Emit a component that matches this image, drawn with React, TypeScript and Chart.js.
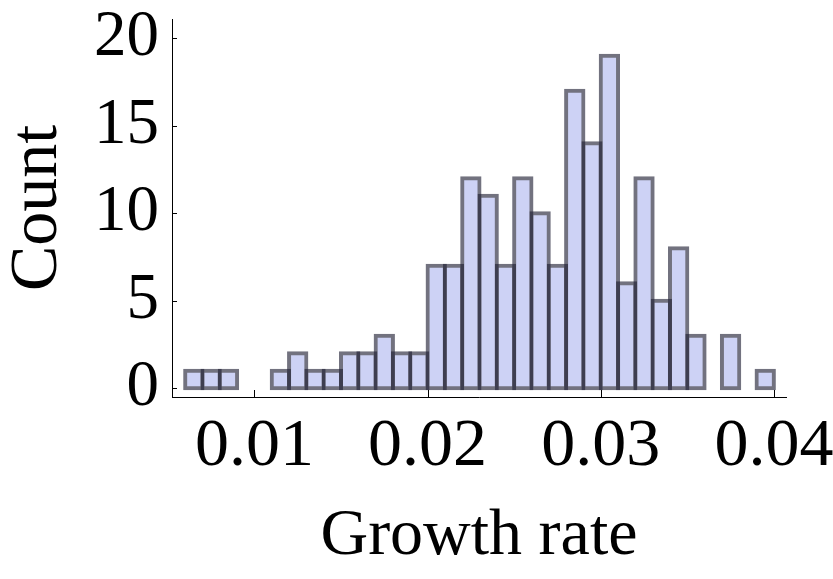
import React, { useEffect, useRef } from 'react';
import { Chart, registerables } from 'chart.js';

Chart.register(...registerables);

const BIN_WIDTH = 0.001;

// lower edge of each histogram bin
const binStarts = [
  0.006, 0.007, 0.008, 0.009, 0.01, 0.011, 0.012, 0.013, 0.014, 0.015, 0.016, 0.017,
  0.018, 0.019, 0.02, 0.021, 0.022, 0.023, 0.024, 0.025, 0.026, 0.027, 0.028, 0.029,
  0.03, 0.031, 0.032, 0.033, 0.034, 0.035, 0.036, 0.037, 0.038, 0.039,
];

const counts = [
  1, 1, 1, 0, 0, 1, 2, 1, 1, 2, 2, 3,
  2, 2, 7, 7, 12, 11, 7, 12, 10, 7, 17, 14,
  19, 6, 12, 5, 8, 3, 0, 3, 0, 1,
];

const xTicks = [0.01, 0.02, 0.03, 0.04];
const yTicks = [0, 5, 10, 15, 20];

const SERIF = "'Liberation Serif', 'Times New Roman', serif";

// Mathematica-style tick marks pointing into the frame
const innerTicks = {
  id: 'innerTicks',
  afterDatasetsDraw(chart: Chart) {
    const { ctx, chartArea, scales } = chart;
    ctx.save();
    ctx.strokeStyle = '#000';
    ctx.lineWidth = 1;
    ctx.beginPath();
    xTicks.forEach((v) => {
      const px = Math.round(scales.x.getPixelForValue(v)) + 0.5;
      ctx.moveTo(px, chartArea.bottom);
      ctx.lineTo(px, chartArea.bottom - 7);
    });
    yTicks.forEach((v) => {
      const py = Math.round(scales.y.getPixelForValue(v)) + 0.5;
      ctx.moveTo(chartArea.left, py);
      ctx.lineTo(chartArea.left + 5, py);
    });
    ctx.stroke();
    ctx.restore();
  },
};

const App: React.FC = () => {
  const canvasRef = useRef<HTMLCanvasElement>(null);
  const chartRef = useRef<Chart | null>(null);

  useEffect(() => {
    document.body.style.margin = '0';
    if (!canvasRef.current) return;
    if (chartRef.current) chartRef.current.destroy();

    const points = binStarts.map((start, i) => ({
      x: start + BIN_WIDTH / 2,
      y: counts[i] > 0 ? counts[i] : null,
    }));

    chartRef.current = new Chart(canvasRef.current, {
      type: 'bar',
      data: {
        datasets: [
          {
            label: 'Count',
            data: points as any,
            backgroundColor: '#cdd2f5',
            borderColor: 'rgba(35, 35, 55, 0.64)',
            borderWidth: 4,
            borderSkipped: false,
            inflateAmount: 2,
            barPercentage: 1,
            categoryPercentage: 1,
          },
        ],
      },
      options: {
        animation: false,
        responsive: true,
        maintainAspectRatio: false,
        layout: { padding: { top: 19, right: 47, left: 0, bottom: 0 } },
        plugins: {
          legend: { display: false },
          tooltip: { enabled: false },
        },
        scales: {
          x: {
            type: 'linear',
            offset: false,
            min: 0.00524,
            max: 0.0407,
            grid: { display: false, drawTicks: false },
            border: { display: true, color: '#000', width: 1 },
            afterBuildTicks: (scale: any) => {
              scale.ticks = xTicks.map((value) => ({ value }));
            },
            afterFit: (scale: any) => {
              scale.height = 182;
              scale.paddingLeft = 0;
              scale.paddingRight = 0;
            },
            ticks: {
              color: '#000',
              padding: 16,
              maxRotation: 0,
              autoSkip: false,
              font: { family: SERIF, size: 68, lineHeight: 1 },
              callback: (value: any) => Number(value).toFixed(2),
            },
            title: {
              display: true,
              text: 'Growth rate',
              color: '#000',
              padding: { top: 0, bottom: 9 },
              font: { family: SERIF, size: 66, lineHeight: 1 },
            },
          },
          y: {
            type: 'linear',
            min: -0.5,
            max: 21.1,
            grid: { display: false, drawTicks: false },
            border: { display: true, color: '#000', width: 1 },
            afterBuildTicks: (scale: any) => {
              scale.ticks = yTicks.map((value) => ({ value }));
            },
            afterFit: (scale: any) => {
              scale.width = 172;
              scale.paddingTop = 0;
              scale.paddingBottom = 0;
            },
            ticks: {
              color: '#000',
              padding: 13,
              autoSkip: false,
              font: { family: SERIF, size: 65, lineHeight: 1 },
            },
            title: {
              display: true,
              text: 'Count',
              color: '#000',
              padding: { top: 4, bottom: 0 },
              font: { family: SERIF, size: 68, lineHeight: 1 },
            },
          },
        },
      },
      plugins: [innerTicks],
    });

    return () => {
      if (chartRef.current) {
        chartRef.current.destroy();
        chartRef.current = null;
      }
    };
  }, []);

  return (
    <div style={{ width: 833, height: 579, background: '#fff' }}>
      <canvas ref={canvasRef}></canvas>
    </div>
  );
};

export default App;
